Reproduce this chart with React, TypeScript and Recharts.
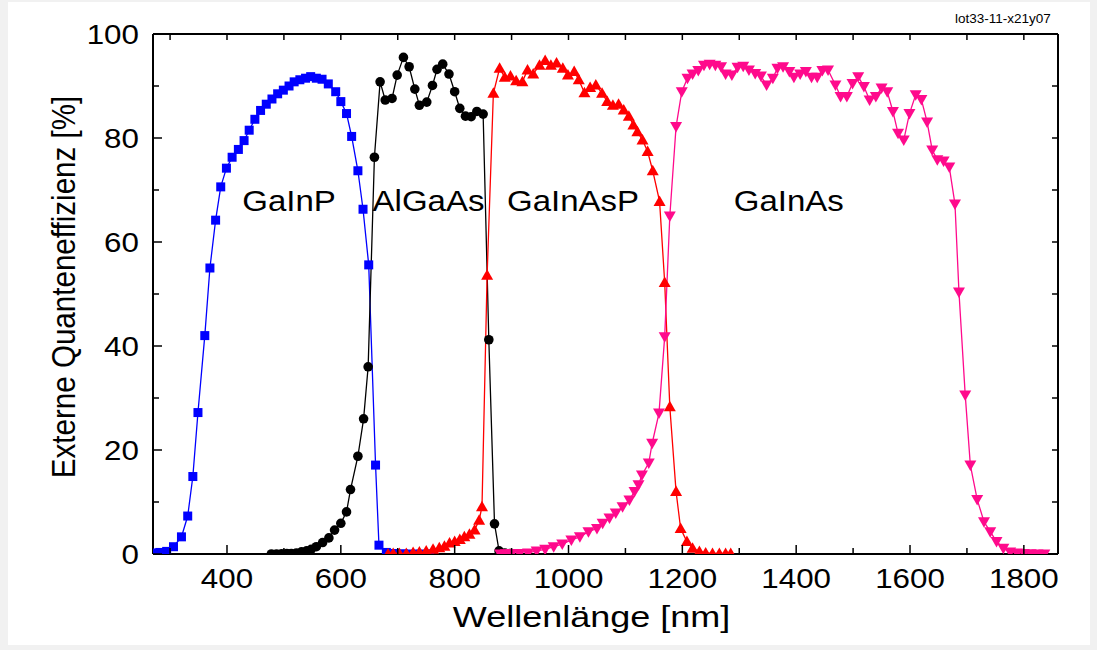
import React from "react";
import { LineChart, Line, XAxis, YAxis, ReferenceDot } from "recharts";

// Wellenlänge [nm] und externe Quanteneffizienz [%] je Teilzelle
const gainpNm = [272, 282, 294, 306, 320, 331, 340, 349, 361, 370, 380, 389, 399, 409, 420, 430, 439, 449, 459, 469, 479, 489, 499, 509, 518, 528, 538, 547, 557, 567, 578, 591, 600, 610, 619, 630, 639, 649, 661, 667, 680, 695, 710, 725, 740, 756];
const gainpEqe = [0.2, 0.3, 0.5, 1.4, 3.3, 7.3, 14.9, 27.2, 42, 55, 64.2, 70.6, 74.2, 76.3, 77.8, 79.5, 81.5, 83.6, 85.3, 86.5, 87.5, 88.5, 89.2, 90, 90.8, 91.2, 91.5, 91.8, 91.5, 91.3, 90.4, 88.9, 87, 84.7, 80.3, 73.7, 66.3, 55.6, 17.1, 1.7, 0.3, 0.1, 0.05, 0, 0, 0];

const algaasNm = [478, 487, 496, 505, 513, 522, 531, 540, 548, 557, 568, 579, 589, 600, 610, 617, 630, 640, 648, 659, 669, 678, 690, 699, 710, 720, 730, 738, 751, 761, 769, 779, 790, 800, 809, 819, 829, 839, 850, 860, 870, 878, 888, 897];
const algaasEqe = [0, 0, 0.05, 0.1, 0.1, 0.2, 0.4, 0.6, 0.9, 1.4, 2.2, 3.1, 4.6, 5.9, 8.1, 12.4, 18.8, 26, 36, 76.3, 90.8, 87.3, 87.6, 92.1, 95.5, 93.7, 89.4, 86.3, 86.9, 90.1, 93.2, 94.2, 92.3, 88.9, 85.7, 84.2, 84.1, 85.1, 84.6, 41.2, 5.8, 0.6, 0.2, 0.1];

const gainaspNm = [683, 692, 703, 715, 727, 738, 750, 762, 773, 782, 791, 800, 809, 817, 826, 835, 843, 848, 857, 868, 879, 888, 898, 908, 919, 928, 938, 949, 959, 969, 979, 990, 999, 1010, 1018, 1028, 1038, 1048, 1059, 1068, 1078, 1088, 1097, 1106, 1114, 1121, 1130, 1139, 1148, 1160, 1169, 1178, 1189, 1197, 1208, 1218, 1230, 1241, 1253, 1265, 1276, 1285];
const gainaspEqe = [0, 0.1, 0.1, 0.1, 0.3, 0.4, 0.6, 0.9, 1.2, 1.5, 2.1, 2.4, 2.8, 3.3, 3.8, 4.6, 6.5, 9.1, 53.6, 88.6, 93.4, 91.7, 91.9, 91, 90.8, 93.1, 92.3, 94, 94.9, 94, 94.4, 93.4, 92.1, 92.8, 91.2, 88.7, 89.7, 90.2, 88.6, 87, 86.3, 86.5, 85.4, 84.2, 82.5, 81.2, 79.6, 77.4, 73.7, 67.8, 52.2, 28.3, 12, 4.9, 2.4, 1.1, 0.5, 0.2, 0.1, 0.1, 0.1, 0.1];

const gainasNm = [880, 890, 900, 914, 929, 944, 959, 974, 989, 1005, 1020, 1035, 1050, 1060, 1072, 1083, 1095, 1107, 1116, 1123, 1129, 1141, 1147, 1159, 1169, 1178, 1189, 1199, 1209, 1218, 1228, 1238, 1248, 1258, 1268, 1276, 1287, 1297, 1307, 1317, 1328, 1338, 1348, 1359, 1367, 1377, 1388, 1396, 1407, 1417, 1427, 1437, 1446, 1456, 1469, 1478, 1489, 1499, 1509, 1519, 1529, 1540, 1550, 1560, 1570, 1579, 1589, 1599, 1610, 1620, 1630, 1639, 1648, 1659, 1669, 1679, 1686, 1697, 1706, 1718, 1730, 1741, 1752, 1764, 1776, 1788, 1800, 1812, 1824, 1836];
const gainasEqe = [0, 0.05, 0.1, 0.1, 0.2, 0.6, 0.9, 1.4, 1.9, 2.7, 3.3, 4.3, 4.9, 5.9, 6.9, 7.9, 9.1, 10.4, 12, 13.3, 15.2, 17.5, 21.3, 27.1, 41.8, 65, 82.2, 88.9, 91.5, 92.3, 93, 94, 94.2, 94, 93.7, 92.3, 92.1, 93.6, 93.8, 93.1, 92.4, 91.9, 90.2, 91.5, 93.4, 93.7, 92.8, 91.7, 92.3, 92.8, 91.7, 91.7, 93, 93.1, 90.2, 88, 88, 90.5, 91.8, 89.9, 87.3, 88, 89.6, 88.9, 85.1, 80.9, 79.6, 84.7, 88.3, 87.4, 83.1, 77.7, 75.8, 75.6, 74.4, 67.3, 50.4, 30.6, 17.1, 10.5, 6.2, 4.3, 2.4, 1.1, 0.4, 0.2, 0.1, 0.05, 0, 0];

const xTicks = [300, 400, 500, 600, 700, 800, 900, 1000, 1100, 1200, 1300, 1400, 1500, 1600, 1700, 1800];
const yTicks = [0, 10, 20, 30, 40, 50, 60, 70, 80, 90, 100];

const cellLabels = [
  { name: "GaInP", x: 509, y: 68 },
  { name: "AlGaAs", x: 754, y: 68 },
  { name: "GaInAsP", x: 1008, y: 68 },
  { name: "GaInAs", x: 1387, y: 68 },
];

const zip = (nm: number[], eqe: number[]) => nm.map((x, i) => ({ x, y: eqe[i] }));

const FONT = "Arial, 'Liberation Sans', Helvetica, sans-serif";

function Stretched({ x, y, text, size, anchor = "middle", sx = 1.12 }: any) {
  return (
    <text
      transform={`translate(${x} ${y}) scale(${sx} 1)`}
      textAnchor={anchor}
      fontSize={size}
      fontFamily={FONT}
      fill="#000"
    >
      {text}
    </text>
  );
}

const BottomTick = ({ x, y, payload }: any) => {
  const major = payload.value % 200 === 0;
  return (
    <g>
      <line x1={x} x2={x} y1={y} y2={y - (major ? 9 : 6)} stroke="#000" strokeWidth={1.5} />
      {major && <Stretched x={x} y={y + 34} text={String(payload.value)} size={28} />}
    </g>
  );
};

const TopTick = ({ x, y }: any) => (
  <line x1={x} x2={x} y1={y} y2={y + 6} stroke="#000" strokeWidth={1.5} />
);

const LeftTick = ({ x, y, payload }: any) => {
  const major = payload.value % 20 === 0;
  return (
    <g>
      <line x1={x} x2={x + (major ? 9 : 6)} y1={y} y2={y} stroke="#000" strokeWidth={1.5} />
      {major && <Stretched x={x - 14} y={y + 10} text={String(payload.value)} size={28} anchor="end" />}
    </g>
  );
};

const RightTick = ({ x, y }: any) => (
  <line x1={x} x2={x - 6} y1={y} y2={y} stroke="#000" strokeWidth={1.5} />
);

const squareDot = (p: any) =>
  p.cx == null ? null : (
    <rect key={`s${p.index}`} x={p.cx - 4.5} y={p.cy - 4.5} width={9} height={9} fill="#0000ff" />
  );
const circleDot = (p: any) =>
  p.cx == null ? null : <circle key={`c${p.index}`} cx={p.cx} cy={p.cy} r={4.8} fill="#000" />;
const upDot = (p: any) =>
  p.cx == null ? null : (
    <polygon
      key={`u${p.index}`}
      points={`${p.cx},${p.cy - 6} ${p.cx - 6},${p.cy + 4.5} ${p.cx + 6},${p.cy + 4.5}`}
      fill="#ff0000"
    />
  );
const downDot = (p: any) =>
  p.cx == null ? null : (
    <polygon
      key={`d${p.index}`}
      points={`${p.cx},${p.cy + 6} ${p.cx - 6},${p.cy - 4.5} ${p.cx + 6},${p.cy - 4.5}`}
      fill="#ff0a8c"
    />
  );

const CellLabel = ({ viewBox, value }: any) => {
  const cx = viewBox.x + viewBox.width / 2;
  const cy = viewBox.y + viewBox.height / 2;
  return <Stretched x={cx} y={cy + 11} text={value} size={30} sx={1.1} />;
};

const XTitle = ({ viewBox }: any) => (
  <Stretched x={viewBox.x + viewBox.width / 2 - 14} y={viewBox.y + 73} text="Wellenlänge [nm]" size={30} sx={1.2} />
);

const YTitle = ({ viewBox }: any) => (
  <text
    transform={`translate(${viewBox.x + 67} ${viewBox.y + viewBox.height / 2 - 7}) scale(1.15 1) rotate(-90)`}
    textAnchor="middle"
    fontSize={29.6}
    fontFamily={FONT}
    fill="#000"
  >
    Externe Quanteneffizienz [%]
  </text>
);

const axisLine = { stroke: "#000", strokeWidth: 2 };

export default function App() {
  return (
    <div style={{ position: "fixed", inset: 0, background: "#f1f1f1", fontFamily: FONT }}>
      <div style={{ position: "absolute", left: 8, top: 2, width: 1082, height: 643, background: "#fff" }}>
        <div style={{ position: "absolute", left: 947, top: 9, fontSize: 13.5, color: "#000", whiteSpace: "nowrap" }}>
          lot33-11-x21y07
        </div>
        <LineChart width={1082} height={643} margin={{ top: 31, right: 0, bottom: 0, left: 0 }}>
          <XAxis
            xAxisId="b"
            type="number"
            dataKey="x"
            domain={[270, 1860]}
            ticks={xTicks}
            interval={0}
            allowDataOverflow
            height={91}
            tickSize={0}
            tickMargin={0}
            tickLine={false}
            axisLine={axisLine}
            tick={<BottomTick />}
            label={{ content: <XTitle /> }}
          />
          <XAxis
            xAxisId="t"
            orientation="top"
            type="number"
            dataKey="x"
            domain={[270, 1860]}
            ticks={xTicks}
            interval={0}
            allowDataOverflow
            height={1}
            tickSize={0}
            tickMargin={0}
            tickLine={false}
            axisLine={axisLine}
            tick={<TopTick />}
          />
          <YAxis
            yAxisId="l"
            type="number"
            domain={[0, 100]}
            ticks={yTicks}
            interval={0}
            allowDataOverflow
            width={145}
            tickSize={0}
            tickMargin={0}
            tickLine={false}
            axisLine={axisLine}
            tick={<LeftTick />}
            label={{ content: <YTitle /> }}
          />
          <YAxis
            yAxisId="r"
            orientation="right"
            type="number"
            domain={[0, 100]}
            ticks={yTicks}
            interval={0}
            allowDataOverflow
            width={32}
            tickSize={0}
            tickMargin={0}
            tickLine={false}
            axisLine={axisLine}
            tick={<RightTick />}
          />
          <Line xAxisId="b" yAxisId="l" data={zip(gainpNm, gainpEqe)} dataKey="y" type="linear" stroke="#0000ff" strokeWidth={1.3} dot={squareDot} activeDot={false} isAnimationActive={false} />
          <Line xAxisId="b" yAxisId="l" data={zip(algaasNm, algaasEqe)} dataKey="y" type="linear" stroke="#000" strokeWidth={1.3} dot={circleDot} activeDot={false} isAnimationActive={false} />
          <Line xAxisId="b" yAxisId="l" data={zip(gainaspNm, gainaspEqe)} dataKey="y" type="linear" stroke="#ff0000" strokeWidth={1.3} dot={upDot} activeDot={false} isAnimationActive={false} />
          <Line xAxisId="b" yAxisId="l" data={zip(gainasNm, gainasEqe)} dataKey="y" type="linear" stroke="#ff0a8c" strokeWidth={1.3} dot={downDot} activeDot={false} isAnimationActive={false} />
          {cellLabels.map((c) => (
            <ReferenceDot
              key={c.name}
              xAxisId="b"
              yAxisId="l"
              x={c.x}
              y={c.y}
              r={1}
              fill="none"
              stroke="none"
              label={{ value: c.name, content: <CellLabel /> }}
            />
          ))}
        </LineChart>
      </div>
    </div>
  );
}
